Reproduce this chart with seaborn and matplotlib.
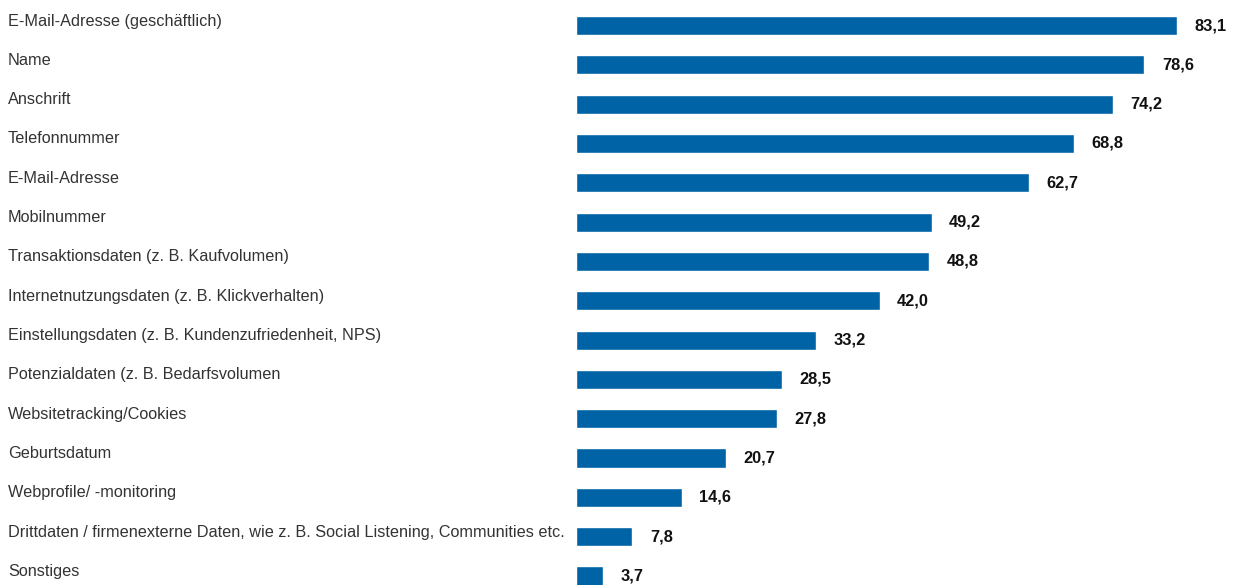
import matplotlib
matplotlib.use("Agg")
import matplotlib.pyplot as plt
import matplotlib.transforms as mtransforms
import seaborn as sns
import pandas as pd

categories = [
    "E-Mail-Adresse (geschäftlich)",
    "Name",
    "Anschrift",
    "Telefonnummer",
    "E-Mail-Adresse",
    "Mobilnummer",
    "Transaktionsdaten (z. B. Kaufvolumen)",
    "Internetnutzungsdaten (z. B. Klickverhalten)",
    "Einstellungsdaten (z. B. Kundenzufriedenheit, NPS)",
    "Potenzialdaten (z. B. Bedarfsvolumen",
    "Websitetracking/Cookies",
    "Geburtsdatum",
    "Webprofile/ -monitoring",
    "Drittdaten / firmenexterne Daten, wie z. B. Social Listening, Communities etc.",
    "Sonstiges",
]
values = [83.1, 78.6, 74.2, 68.8, 62.7, 49.2, 48.8, 42.0, 33.2, 28.5, 27.8, 20.7, 14.6, 7.8, 3.7]

df = pd.DataFrame({"cat": categories, "val": values})

sns.set_theme(style="white")
plt.rcParams["font.family"] = ["Liberation Sans", "DejaVu Sans"]

W, H = 1234, 585
fig = plt.figure(figsize=(W / 100, H / 100), dpi=100)
ax = fig.add_axes([576 / W, 0, 1 - 576 / W, 1])

sns.barplot(data=df, x="val", y="cat", order=categories, orient="h",
            color="#0063a6", saturation=1, width=0.485, ax=ax)

px_per_unit = 7.232
ax.set_xlim(0, (W - 576) / px_per_unit)
pitch = 39.3
ax.set_ylim(14 + 9 / pitch, -25.5 / pitch)

for s in ax.spines.values():
    s.set_visible(False)
ax.set_xticks([])
ax.set_yticks([])
ax.set_xlabel("")
ax.set_ylabel("")

trans = mtransforms.blended_transform_factory(fig.transFigure, ax.transData)
off = mtransforms.ScaledTranslation(0, 4.5 / 100, fig.dpi_scale_trans)
for i, (c, v) in enumerate(zip(categories, values)):
    ax.text(8 / W, i, c, transform=trans + off, ha="left", va="center",
            fontsize=11.7, color="#333333")
    ax.annotate(f"{v:.1f}".replace(".", ","), xy=(v, i), xytext=(12.5, 0),
                textcoords="offset points", ha="left", va="center",
                fontsize=11.8, fontweight="bold", color="#111111")

fig.savefig("out.png", dpi=100)
